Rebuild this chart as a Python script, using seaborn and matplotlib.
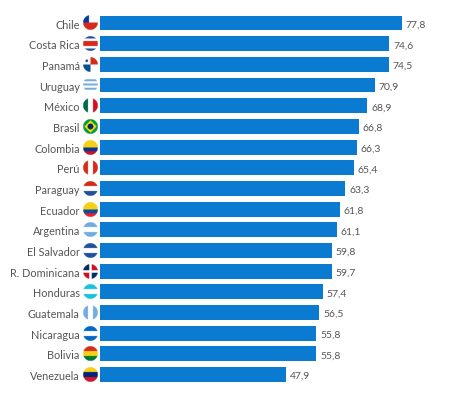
import matplotlib
matplotlib.use("Agg")
import matplotlib.pyplot as plt
import numpy as np
import pandas as pd
import seaborn as sns

countries = ["Chile", "Costa Rica", "Panamá", "Uruguay", "México", "Brasil",
             "Colombia", "Perú", "Paraguay", "Ecuador", "Argentina",
             "El Salvador", "R. Dominicana", "Honduras", "Guatemala",
             "Nicaragua", "Bolivia", "Venezuela"]
values = [77.8, 74.6, 74.5, 70.9, 68.9, 66.8, 66.3, 65.4, 63.3, 61.8, 61.1,
          59.8, 59.7, 57.4, 56.5, 55.8, 55.8, 47.9]

BLUE, RED, WHITE = "#1f4fa0", "#d52b1e", "#ffffff"
LBLUE, YEL, GRN = "#74acdf", "#f7d116", "#1e9a3c"
# simplified flags: (orientation, stripe colours, relative sizes)
flags = {
    "Costa Rica": ("h", [BLUE, WHITE, RED, WHITE, BLUE], [1, 1, 2, 1, 1]),
    "Uruguay": ("h", [WHITE, LBLUE, WHITE, LBLUE, WHITE, LBLUE, WHITE], None),
    "México": ("v", ["#006847", WHITE, "#ce1126"], None),
    "Colombia": ("h", [YEL, "#003893", "#ce1126"], [2, 1, 1]),
    "Perú": ("v", [RED, WHITE, RED], None),
    "Paraguay": ("h", [RED, WHITE, BLUE], None),
    "Ecuador": ("h", [YEL, "#034ea2", "#ed1c24"], [2, 1, 1]),
    "Argentina": ("h", [LBLUE, WHITE, LBLUE], None),
    "El Salvador": ("h", [BLUE, WHITE, BLUE], None),
    "Honduras": ("h", ["#18c3df", WHITE, "#18c3df"], None),
    "Guatemala": ("v", [LBLUE, WHITE, LBLUE], None),
    "Nicaragua": ("h", ["#0067c6", WHITE, "#0067c6"], None),
    "Bolivia": ("h", ["#d52b1e", YEL, "#007934"], None),
    "Venezuela": ("h", [YEL, "#00247d", "#cf142b"], None),
}


def flag_image(name, n=60):
    yy, xx = np.mgrid[0:n, 0:n] / (n - 1)
    img = np.ones((n, n, 4))
    def paint(mask, col):
        img[mask, :3] = matplotlib.colors.to_rgb(col)
    if name in flags:
        kind, cols, sizes = flags[name]
        sizes = sizes or [1] * len(cols)
        edges = np.cumsum([0] + sizes) / sum(sizes)
        coord = yy if kind == "h" else xx
        for c, a, b in zip(cols, edges[:-1], edges[1:]):
            paint((coord >= a) & (coord <= b), c)
    elif name == "Chile":
        paint(yy >= 0.5, RED)
        paint((yy < 0.5) & (xx < 0.4), "#0039a6")
    elif name == "Panamá":
        paint((yy >= 0.5) & (xx < 0.5), "#005293")
        paint((yy < 0.5) & (xx >= 0.5), RED)
        paint(((xx - 0.25) ** 2 + (yy - 0.25) ** 2) < 0.008, "#005293")
    elif name == "Brasil":
        paint(yy >= 0, "#009c3b")
        paint(abs(xx - 0.5) + abs(yy - 0.5) < 0.42, "#ffdf00")
        paint(((xx - 0.5) ** 2 + (yy - 0.5) ** 2) < 0.04, "#002776")
    elif name == "R. Dominicana":
        paint(yy >= 0, WHITE)
        paint(((xx < 0.42) & (yy < 0.42)) | ((xx > 0.58) & (yy > 0.58)), "#002d62")
        paint(((xx > 0.58) & (yy < 0.42)) | ((xx < 0.42) & (yy > 0.58)), "#ce1126")
    img[((xx - 0.5) ** 2 + (yy - 0.5) ** 2) > 0.25, 3] = 0
    return img


df = pd.DataFrame({"country": countries, "value": values})

fig = plt.figure(figsize=(4.49, 4.02), dpi=100)
ax = fig.add_axes([100 / 449, 0.040, 349 / 449, 0.926])
sns.barplot(data=df, y="country", x="value", orient="h", color="#0a7bd0",
            saturation=1, width=0.72, ax=ax)

for i, (c, v) in enumerate(zip(countries, values)):
    ax.text(v + 1.0, i + 0.05, f"{v:.1f}".replace(".", ","), va="center",
            ha="left", fontsize=7.5, color="#555555", family="Lato")
    ax.imshow(flag_image(c), extent=(-4.5, -0.65, i + 0.36, i - 0.36),
              aspect="auto", clip_on=False, zorder=3)

ax.set_xlim(0, 90)
ax.set_ylim(len(countries) - 0.5, -0.5)
ax.set_xlabel("")
ax.set_ylabel("")
ax.set_xticks([])
ax.tick_params(axis="y", length=0, pad=14.5, labelsize=7.8,
               labelcolor="#555555")
for lab in ax.get_yticklabels():
    lab.set_family("Lato")
sns.despine(ax=ax, left=True, bottom=True)

fig.savefig("out.png", dpi=100)
